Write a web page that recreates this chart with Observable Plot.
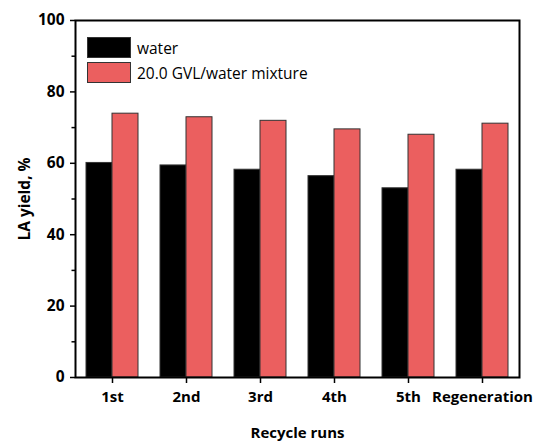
<!DOCTYPE html>
<html>
<head>
<meta charset="utf-8">
<script src="https://cdn.jsdelivr.net/npm/d3@7"></script>
<script src="https://cdn.jsdelivr.net/npm/@observablehq/plot@0.6"></script>
<style>
  html, body { margin: 0; padding: 0; background: #fff; }
  #wrap { position: relative; width: 539px; height: 442px; font-family: "Open Sans", sans-serif; }
  #legend { position: absolute; left: 87px; top: 35px; font-size: 15.5px; color: #000; }
  .item { display: flex; align-items: center; height: 25px; }
  .sw { width: 44px; height: 21px; box-sizing: border-box; border: 1px solid #333; margin-right: 6px; }
</style>
</head>
<body>
<div id="wrap"><div id="legend"></div></div>
<script>
const categories = ["1st", "2nd", "3rd", "4th", "5th", "Regeneration"];
const waterYield = [60.1, 59.4, 58.2, 56.4, 53.0, 58.2];
const gvlYield = [73.9, 72.9, 71.9, 69.5, 68.0, 71.1];
const seriesNames = ["water", "20.0 GVL/water mixture"];
const seriesColors = ["#000000", "#eb5f5f"];
const yTicks = [0, 20, 40, 60, 80, 100];
const yMinorTicks = [10, 30, 50, 70, 90];

const waterData = categories.map((c, i) => ({run: c, value: waterYield[i]}));
const gvlData = categories.map((c, i) => ({run: c, value: gvlYield[i]}));

const chart = Plot.plot({
  width: 539,
  height: 442,
  marginLeft: 75,
  marginRight: 20,
  marginTop: 20,
  marginBottom: 65,
  style: {fontFamily: "Open Sans", fontSize: "15px", color: "#000", background: "#fff"},
  x: {domain: categories, padding: 0},
  y: {domain: [0, 100]},
  marks: [
    Plot.barY(waterData, {x: "run", y: "value", fill: seriesColors[0], stroke: "#333", strokeWidth: 1, insetLeft: 11, insetRight: 37}),
    Plot.barY(gvlData, {x: "run", y: "value", fill: seriesColors[1], stroke: "#333", strokeWidth: 1, insetLeft: 37, insetRight: 11}),
    Plot.axisY({ticks: yMinorTicks, tickSize: 3.5, strokeWidth: 1.5, tickFormat: () => "", label: null}),
    Plot.axisY({ticks: yTicks, tickSize: 5, tickPadding: 6, strokeWidth: 1.5, fontWeight: "bold", fontSize: 15.5,
      label: "LA yield, %", labelAnchor: "center", labelOffset: 57, labelArrow: "none"}),
    Plot.axisX({tickSize: 6, tickPadding: 8, strokeWidth: 1.5, fontWeight: "bold", fontSize: 15,
      label: "Recycle runs", labelAnchor: "center", labelOffset: 60, labelArrow: "none"}),
    Plot.frame({stroke: "#000", strokeWidth: 2})
  ]
});
const wrap = document.getElementById("wrap");
wrap.insertBefore(chart, wrap.firstChild);

const legend = document.getElementById("legend");
seriesNames.forEach((name, i) => {
  const item = document.createElement("div");
  item.className = "item";
  const sw = document.createElement("div");
  sw.className = "sw";
  sw.style.background = seriesColors[i];
  const label = document.createElement("span");
  label.textContent = name;
  item.appendChild(sw);
  item.appendChild(label);
  legend.appendChild(item);
});
</script>
</body>
</html>
